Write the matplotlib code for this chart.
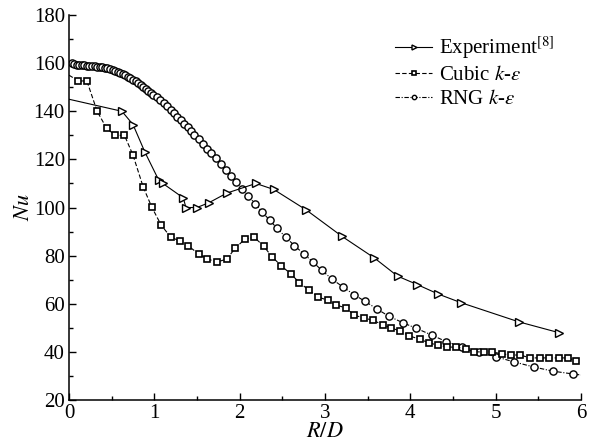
import matplotlib
matplotlib.use('Agg')
import matplotlib.pyplot as plt

plt.rcParams['font.family'] = ['Liberation Serif', 'DejaVu Serif']
plt.rcParams['mathtext.fontset'] = 'stix'

# Experiment [8]
exp_x = [0.0, 0.62, 0.75, 0.89, 1.05, 1.10, 1.34, 1.37, 1.50, 1.64, 1.85, 2.19, 2.40,
         2.78, 3.20, 3.58, 3.85, 4.08, 4.33, 4.59, 5.27, 5.74]
exp_y = [145, 140, 134.5, 123, 111.5, 110, 104, 100, 100, 102, 106, 110, 107.5,
         99, 88, 79, 71.5, 68, 64, 60.5, 52.5, 48]

# Cubic k-eps
cub_x = [0.0, 0.11, 0.21, 0.33, 0.44, 0.54, 0.65, 0.75, 0.87, 0.97, 1.08, 1.19, 1.30,
         1.40, 1.52, 1.62, 1.74, 1.85, 1.95, 2.06, 2.17, 2.28, 2.38, 2.49, 2.60, 2.70,
         2.81, 2.92, 3.03, 3.13, 3.25, 3.34, 3.46, 3.56, 3.68, 3.77, 3.88, 3.99, 4.11,
         4.22, 4.33, 4.43, 4.54, 4.65, 4.75, 4.86, 4.96, 5.07, 5.18, 5.29, 5.40, 5.52,
         5.63, 5.74, 5.85, 5.94]
cub_y = [155, 152.6, 152.6, 140, 133, 130, 130, 121.8, 108.5, 100.2, 92.7, 87.8, 86,
         84, 80.7, 78.6, 77.4, 78.6, 83.2, 86.8, 87.7, 84, 79.5, 75.7, 72.4, 68.8,
         65.7, 62.8, 61.5, 59.5, 58.2, 55.3, 54, 53.2, 51.2, 50, 48.7, 46.6, 45.3,
         43.7, 42.8, 42, 42, 41.2, 40, 40, 40, 39.2, 38.7, 38.7, 37.5, 37.5,
         37.5, 37.5, 37.5, 36.3]

# RNG k-eps
rng_x = [0.00, 0.03, 0.06, 0.09, 0.12, 0.15, 0.18, 0.21, 0.24, 0.27, 0.30, 0.33, 0.36,
         0.39, 0.42, 0.45, 0.48, 0.51, 0.54, 0.57, 0.60, 0.63, 0.66, 0.69, 0.72, 0.75,
         0.78, 0.81, 0.84, 0.87, 0.90, 0.93, 0.96, 0.99, 1.03, 1.07, 1.11, 1.15, 1.19,
         1.23, 1.27, 1.31, 1.35, 1.39, 1.43, 1.47, 1.52, 1.57, 1.62, 1.67, 1.72, 1.78,
         1.84, 1.90, 1.96, 2.03, 2.10, 2.18, 2.26, 2.35, 2.44, 2.54, 2.64, 2.75, 2.86,
         2.96, 3.08, 3.21, 3.34, 3.47, 3.61, 3.75, 3.92, 4.07, 4.25, 4.42, 4.61, 4.81,
         5.00, 5.22, 5.45, 5.67, 5.91, 6.00]
rng_y = [160.5, 160.0, 159.6, 159.4, 159.3, 159.2, 159.1, 159.0, 158.9, 158.8, 158.7,
         158.5, 158.4, 158.2, 158.0, 157.8, 157.5, 157.2, 156.9, 156.5, 156.0, 155.5,
         155.0, 154.4, 153.8, 153.2, 152.5, 151.8, 151.0, 150.2, 149.4, 148.6, 147.8,
         146.9, 145.8, 144.6, 143.3, 142.0, 140.6, 139.2, 137.8, 136.3, 134.8, 133.3,
         131.8, 130.3, 128.4, 126.5, 124.5, 122.5, 120.5, 118.0, 115.5, 113.0, 110.5,
         107.8, 104.8, 101.6, 98.3, 94.8, 91.3, 87.7, 84.2, 80.8, 77.3, 74.0, 70.3,
         67.0, 63.8, 61.0, 57.8, 54.8, 52.0, 49.8, 47.0, 44.3, 42.0, 40.0, 38.0, 35.8,
         33.7, 32.0, 30.8, 30.4]

fig = plt.figure(figsize=(6.03, 4.47), dpi=100)
ax = fig.add_axes([0.1144, 0.1051, 0.8491, 0.8613])

ax.plot(exp_x, exp_y, color='black', lw=0.8, ls='-', marker='>', ms=6, mfc='white',
        mec='black', mew=1.0, markevery=list(range(1, len(exp_x))),
        label='Experiment$^{[8]}$', zorder=3)
ax.plot(cub_x, cub_y, color='black', lw=0.8, ls=(0, (4, 2)), marker='s', ms=5,
        mfc='white', mec='black', mew=1.2, markevery=list(range(1, len(cub_x))),
        label='Cubic $k$-$\\varepsilon$', zorder=4)
ax.plot(rng_x, rng_y, color='black', lw=0.8, ls=(0, (4, 1.5, 1, 1.5)), marker='o',
        ms=5.2, mfc='white', mec='black', mew=1.0,
        markevery=list(range(1, len(rng_x) - 1)),
        label='RNG $k$-$\\varepsilon$', zorder=2)

ax.set_xlim(0, 6)
ax.set_ylim(20, 180)
ax.set_xticks([0, 1, 2, 3, 4, 5, 6])
ax.set_xticks([0.5, 1.5, 2.5, 3.5, 4.5, 5.5], minor=True)
ax.set_yticks(range(20, 181, 20))
ax.set_yticks(range(30, 180, 20), minor=True)
ax.tick_params(which='both', direction='in', labelsize=15, width=1.0)
ax.tick_params(which='major', length=5)
ax.tick_params(which='minor', length=3)
ax.tick_params(axis='x', pad=3)
ax.tick_params(axis='y', pad=3)
for s in ['top', 'right']:
    ax.spines[s].set_visible(False)
for s in ['left', 'bottom']:
    ax.spines[s].set_linewidth(1.1)

ax.set_xlabel('$R/D$', fontsize=16, labelpad=0)
ax.set_ylabel('$Nu$', fontsize=16, labelpad=0)

leg = ax.legend(loc='upper left', bbox_to_anchor=(0.62, 0.97), frameon=False,
                fontsize=15, handlelength=1.8, handletextpad=0.3, labelspacing=0.2,
                markerscale=0.6, borderaxespad=0)

fig.savefig('out.png', dpi=100)
